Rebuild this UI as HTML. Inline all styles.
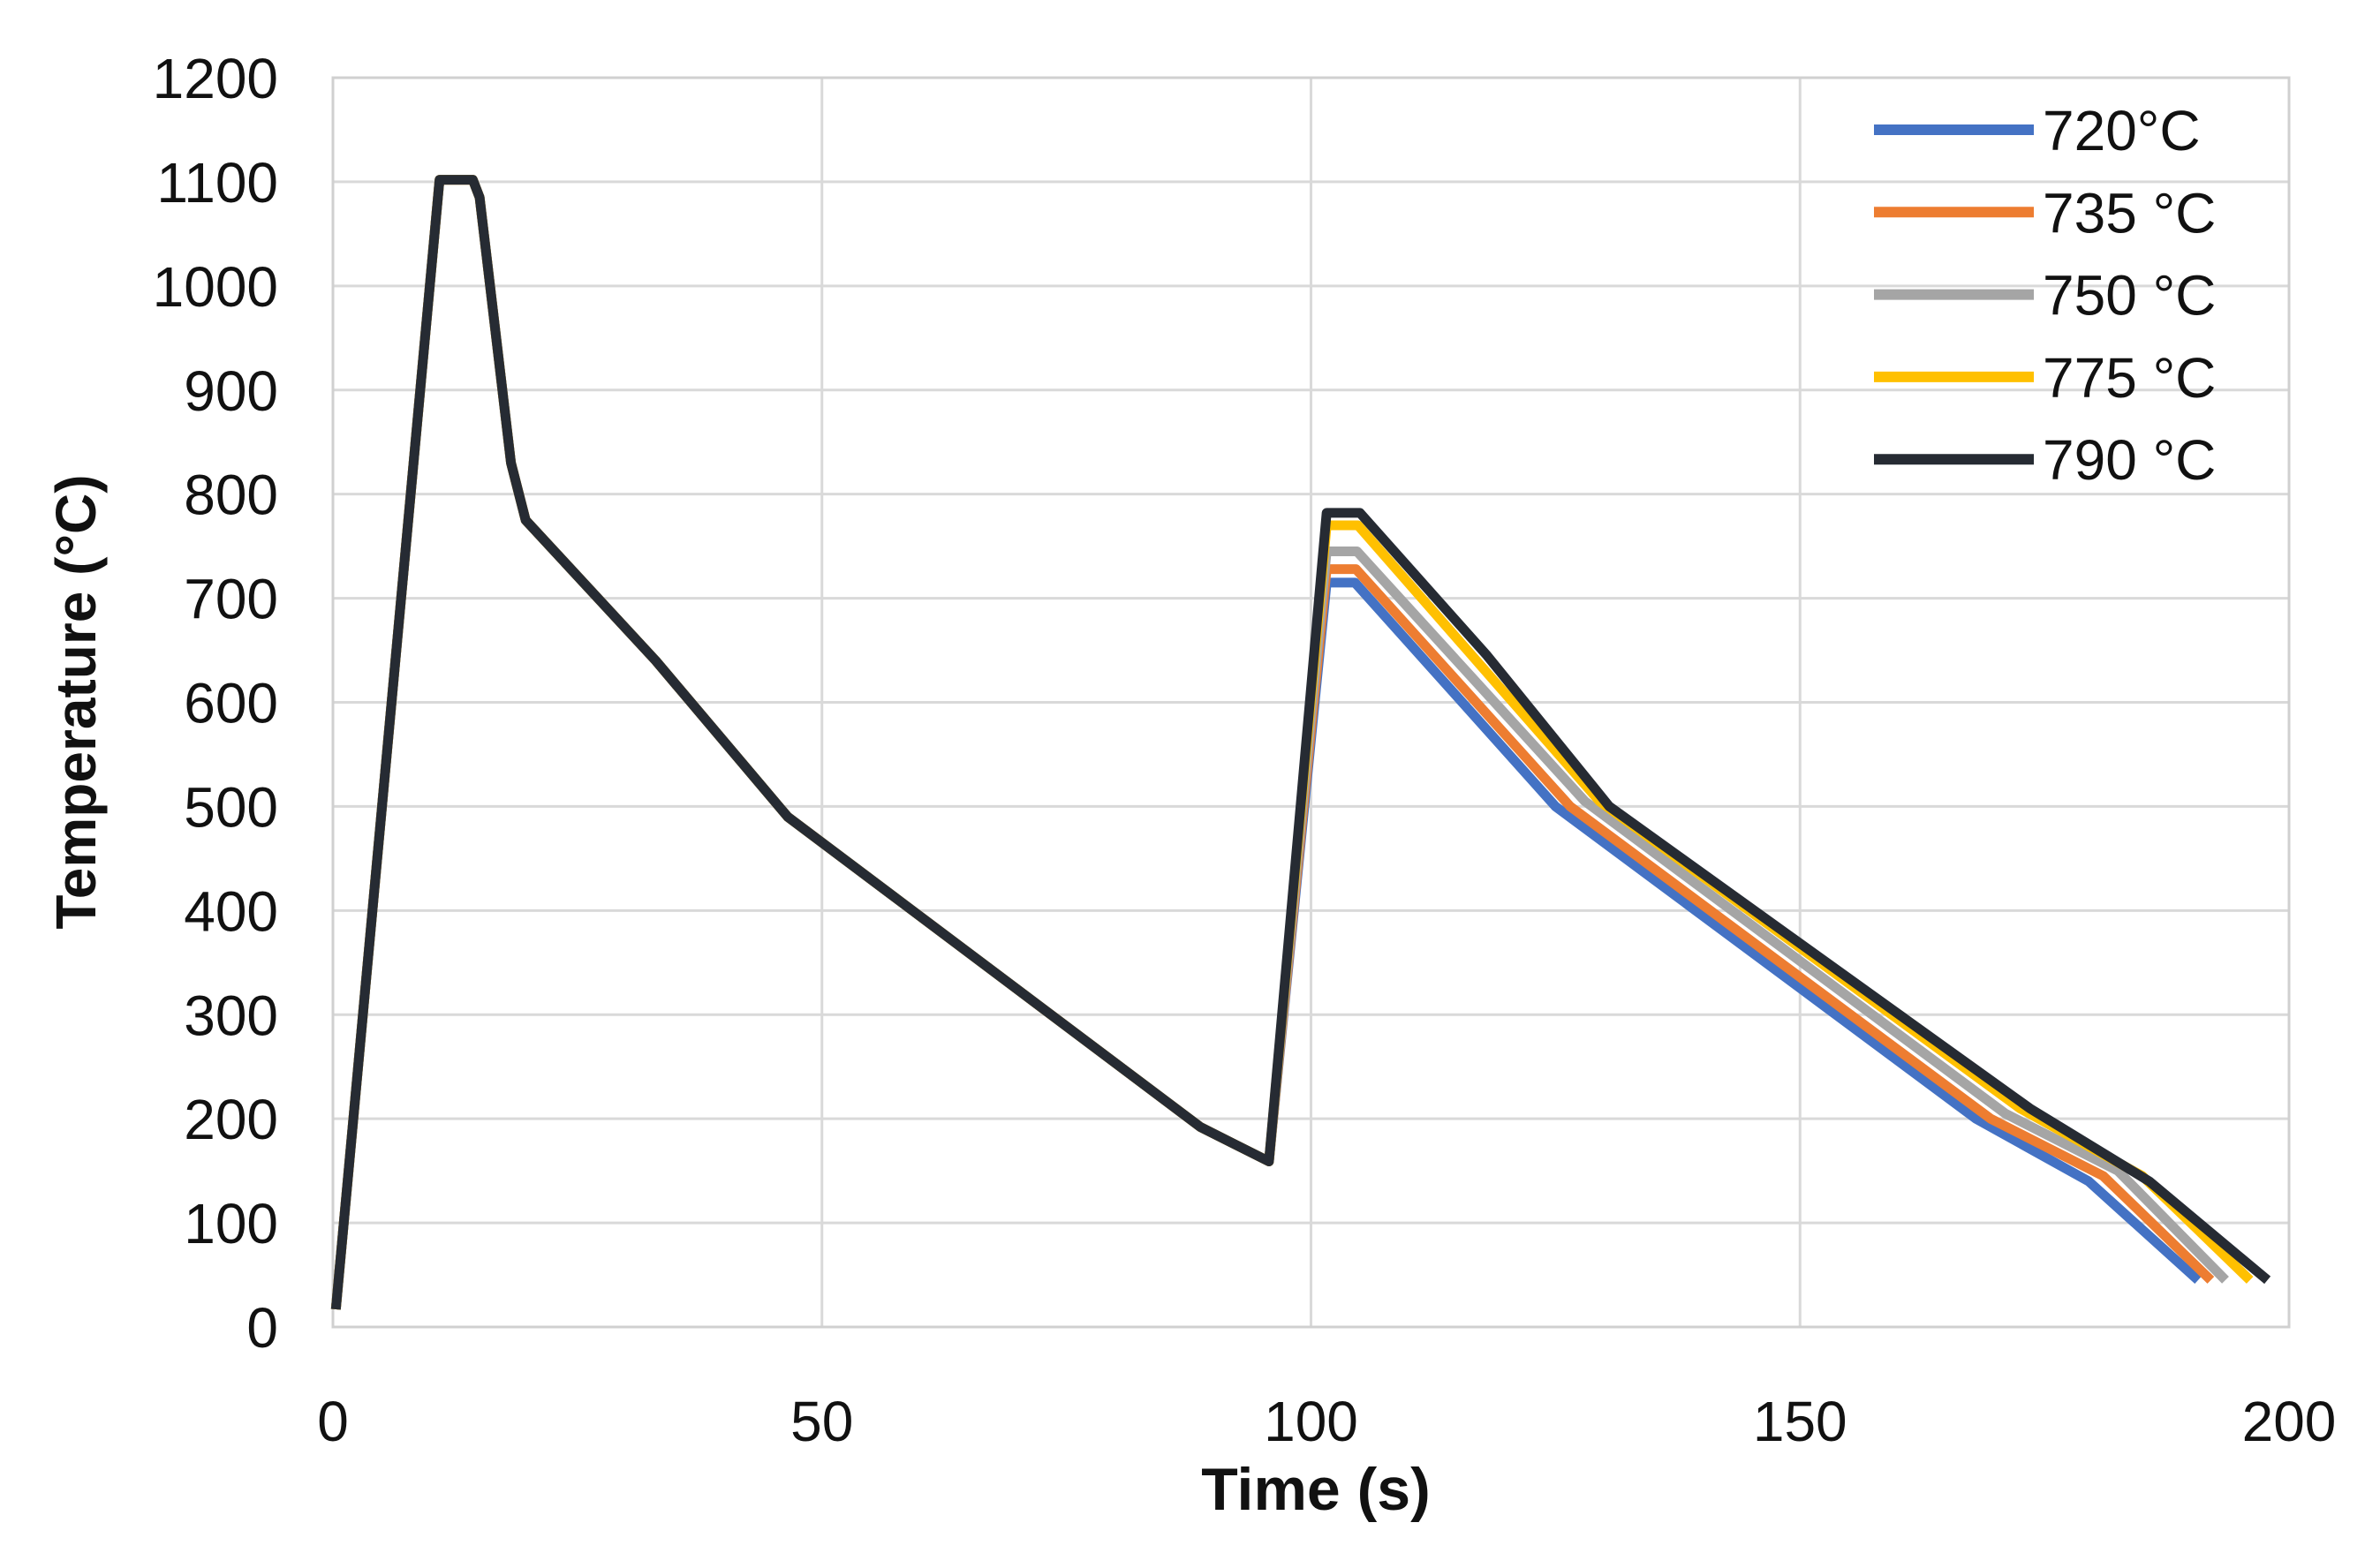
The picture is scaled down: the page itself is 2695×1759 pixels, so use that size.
<!DOCTYPE html>
<html><head><meta charset="utf-8"><style>
html,body{margin:0;padding:0;background:#fff;}
svg{display:block;font-family:"Liberation Sans",sans-serif;}
</style></head><body>
<svg id="chart" width="2695" height="1759" viewBox="0 0 2695 1759" xmlns="http://www.w3.org/2000/svg">
<g id="grid"></g>
<g id="series"></g>
<g id="axes"></g>
<g id="legend"></g>
<text x="1490" y="1710" font-size="68" font-weight="bold" text-anchor="middle" fill="#111">Time (s)</text>
<text transform="translate(108,795) rotate(-90)" font-size="64" font-weight="bold" text-anchor="middle" fill="#111">Temperature (°C)</text>
</svg>
<script>
const xTicks = [0, 50, 100, 150, 200];
const yTicks = [0,100,200,300,400,500,600,700,800,900,1000,1100,1200];
const seriesNames = ["720°C","735 °C","750 °C","775 °C","790 °C"];
const seriesColors = ["#4472c4","#ed7d31","#a5a5a5","#ffc000","#262b33"];
const commonT = [0.3, 10.9, 14.3, 15, 18.2, 19.7, 33, 46.5, 88.7, 95.7];
const commonV = [17, 1102, 1102, 1085, 830, 775, 640, 490, 192, 159];
const s720T = [101.6,104.5,125,168,179.5,190.7];
const s720V = [715,715,500,200,140,45];
const s735T = [101.6,104.6,126.5,169.5,181,192];
const s735V = [728,728,500,200,145,45];
const s750T = [101.6,104.7,128,171,182.5,193.5];
const s750V = [745,745,505,205,150,45];
const s775T = [101.6,104.8,129.5,172.5,185,196];
const s775V = [770,770,505,210,145,45];
const s790T = [101.6,105,118,130.5,173.5,185.7,197.8];
const s790V = [782,782,645,500,210,140,45];

const NS="http://www.w3.org/2000/svg";
const L=377,R=2592,T=88,B=1503;
const xs=t=>L+(t-0)/(200-0)*(R-L);
const ys=v=>B-(v-0)/(1200-0)*(B-T);
function mk(tag,attrs,parent){const e=document.createElementNS(NS,tag);for(const k in attrs)e.setAttribute(k,attrs[k]);parent.appendChild(e);return e;}
const grid=document.getElementById('grid'),axes=document.getElementById('axes'),ser=document.getElementById('series'),leg=document.getElementById('legend');
yTicks.forEach(v=>{
  const l=mk('line',{x1:L,x2:R,y1:ys(v),y2:ys(v),stroke:'#d9d9d9','stroke-width':3},grid);
  
  
  const t=mk('text',{x:L-62,y:ys(v)+23,'font-size':64,'text-anchor':'end',fill:'#111'},axes);
  t.textContent=v;
  
  
});
xTicks.forEach(v=>{
  const l=mk('line',{x1:xs(v),x2:xs(v),y1:T,y2:B,stroke:'#d9d9d9','stroke-width':3},grid);
  
  
  const t=mk('text',{x:xs(v),y:1632,'font-size':64,'text-anchor':'middle',fill:'#111'},axes);
  t.textContent=v;
  
  
});
const fr=mk('rect',{x:L,y:T,width:R-L,height:B-T,fill:'none',stroke:'#d0d0d0','stroke-width':3},grid);


const tails=[[s720T,s720V],[s735T,s735V],[s750T,s750V],[s775T,s775V],[s790T,s790V]];
tails.forEach((tv,i)=>{
  const ts=commonT.concat(tv[0]), vs=commonV.concat(tv[1]);
  const d=ts.map((t,j)=>(j?'L':'M')+xs(t).toFixed(1)+','+ys(vs[j]).toFixed(1)).join(' ');
  const p=mk('path',{d:d,fill:'none',stroke:seriesColors[i],'stroke-width':11,'stroke-linejoin':'round'},ser);
  
  
  const y=147+i*93.3;
  const ll=mk('line',{x1:2122,x2:2303,y1:y,y2:y,stroke:seriesColors[i],'stroke-width':12},leg);
  
  
  const lt=mk('text',{x:2313,y:y+23,'font-size':64,fill:'#111'},leg);
  lt.textContent=seriesNames[i];
  
  
});
</script>
</body></html>
